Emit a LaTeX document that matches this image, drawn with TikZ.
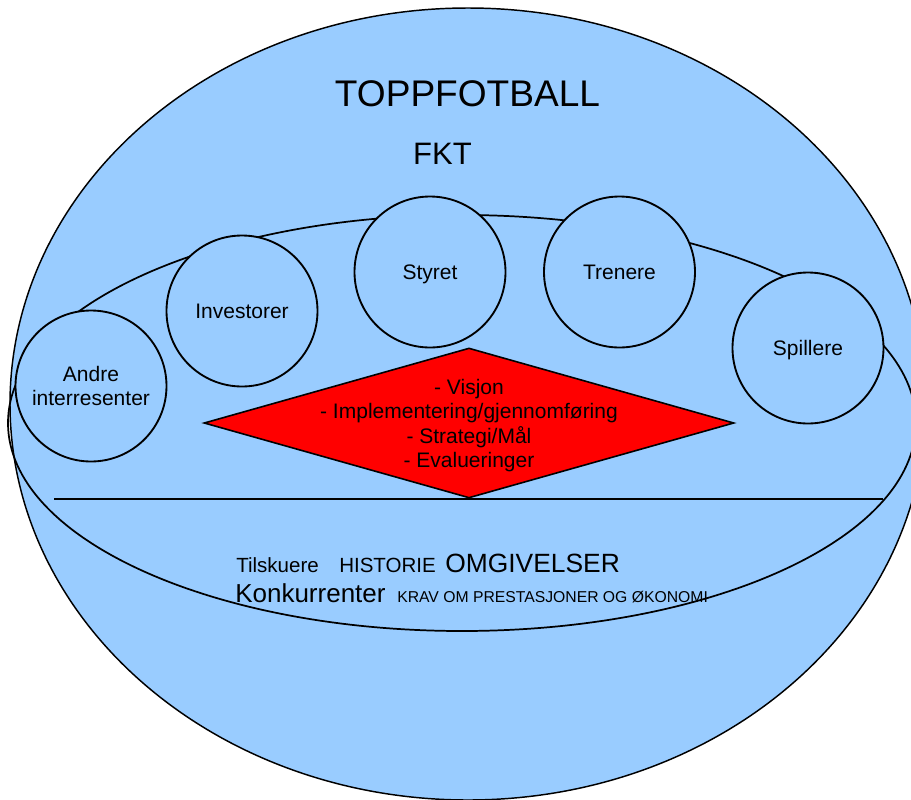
\documentclass[tikz,border=0pt]{standalone}
\usepackage{fontspec}
\setmainfont{Liberation Sans}
\usetikzlibrary{shapes.geometric}
\definecolor{skyfill}{RGB}{153,204,255}
\definecolor{goalred}{RGB}{255,0,0}
\begin{document}
\begin{tikzpicture}[x=0.75pt,y=-0.75pt,
  outline/.style={draw=black,line width=1.1pt},
  thinline/.style={draw=black,line width=1.3pt},
  bubble/.style={circle,draw=black,line width=1.4pt,fill=skyfill,minimum size=113.25pt,inner sep=0pt,
    font=\fontsize{15.75}{18.5}\selectfont,align=center},
  single/.style={text height=11.3pt,text depth=0pt},
  goalbox/.style={diamond,draw=black,line width=1.2pt,fill=goalred,minimum width=397.5pt,minimum height=112.5pt,inner sep=0pt},
  txt/.style={inner sep=0pt,anchor=base west},
]
\useasboundingbox (0,0) rectangle (911,800);
% outer ball
\draw[outline,fill=skyfill] (468,404) ellipse [x radius=458, y radius=396];
% bottom texts
\node[txt,font=\fontsize{15.4}{17}\selectfont] (tilsk) at (236,572) {Tilskuere};
\node[txt,font=\fontsize{15.4}{17}\selectfont] (hist) at (339,572) {HISTORIE};
\node[txt,font=\fontsize{19.8}{22}\selectfont] (omg) at (445,572) {OMGIVELSER};
\node[txt,font=\fontsize{19.5}{22}\selectfont] (konk) at (235,602) {Konkurrenter};
\node[txt,font=\fontsize{11.8}{13}\selectfont] (krav) at (397,602) {KRAV OM PRESTASJONER OG ØKONOMI};
% inner ring
\draw[thinline] (462,423) ellipse [x radius=454, y radius=208];
% stakeholder bubbles
\node[bubble] (andre) at (91,386) {Andre\\interresenter};
\node[bubble,single] (invest) at (242,311) {Investorer};
\node[bubble,single] (styret) at (430,272) {Styret};
\node[bubble,single] (trenere) at (619.5,272) {Trenere};
\node[bubble,single] (spill) at (808,348) {Spillere};
% goals diamond
\node[goalbox] (dia) at (469,423) {};
\node[inner sep=0pt,align=center,font=\fontsize{15.75}{18.4}\selectfont] (goals) at (469,425.5)
  {- Visjon\\- Implementering/gjennomføring\\- Strategi/Mål\\- Evalueringer};
% divider
\coordinate (lineL) at (54,499);
\coordinate (lineR) at (883,499);
\draw[thinline] (lineL) -- (lineR);
% titles
\node[inner sep=0pt,anchor=base,font=\fontsize{27.8}{30}\selectfont] (title) at (467.5,106) {TOPPFOTBALL};
\node[inner sep=0pt,anchor=base,font=\fontsize{23.25}{25}\selectfont] (fkt) at (442.5,164) {FKT};
\end{tikzpicture}
\end{document}
